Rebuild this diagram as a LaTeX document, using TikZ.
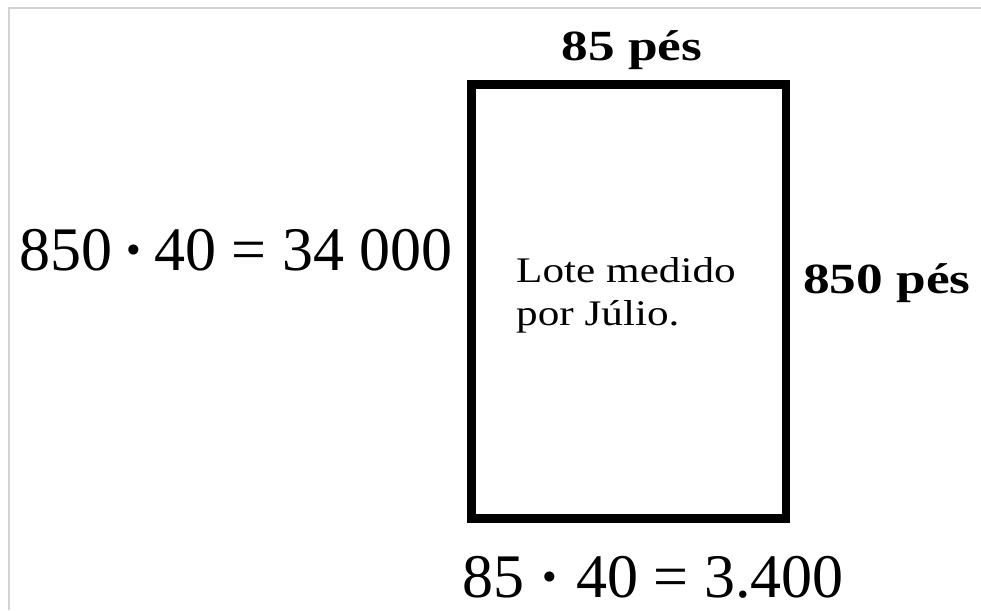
\documentclass[tikz,border=0pt]{standalone}
\usepackage{fontspec}
\setmainfont{Liberation Serif}
\newfontfamily\largafonte[FakeStretch=1.24]{Liberation Serif}
\newfontfamily\notafonte[FakeStretch=1.2]{Liberation Serif}
\usetikzlibrary{positioning}
\definecolor{loteInk}{HTML}{000000}
\definecolor{loteFrame}{HTML}{D2D2D2}

\begin{document}
\begin{tikzpicture}[x=1pt,y=-1pt,line cap=butt,line join=miter]
\path[fill=white] (0,0) rectangle (981,610);
\useasboundingbox (0,0) rectangle (981,610);
\tikzset{lado/.style={font=\largafonte\fontsize{43}{48}\selectfont\bfseries,text=loteInk,inner sep=0pt},conta/.style={font=\fontsize{62}{72}\selectfont,text=loteInk,inner sep=0pt},nota/.style={font=\notafonte\fontsize{36}{43}\selectfont,text=loteInk,inner sep=0pt},lotebox/.style={draw=loteInk,line width=8.5pt}}
\draw[draw=loteFrame,line width=1.5pt] (9,610) -- (9,8) -- (981,8);
\draw[lotebox] (471.5,84.5) rectangle (786,518.5);
\node[lado,anchor=base] (topo) at (632,60) {85\hspace{0.3em}pés};
\node[lado,anchor=base west] (direita) at (803,293) {850 pés};
\node[conta,anchor=base east] (areaA) at (453,270) {850\,{\bfseries\textperiodcentered}\,40 = 34 000};
\node[conta,anchor=base] (areaB) at (653,597) {85 {\bfseries\textperiodcentered} 40 = 3.400};
\node[nota,anchor=base west] (nome1) at (516,282) {Lote medido};
\node[nota,anchor=base west] (nome2) at (516,325) {por Júlio.};
\end{tikzpicture}
\end{document}
